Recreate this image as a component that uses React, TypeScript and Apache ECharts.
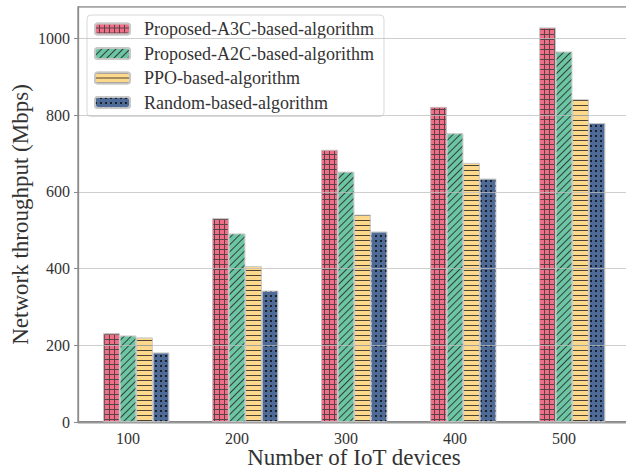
import React, { useEffect, useRef } from "react";
import * as echarts from "echarts";

const devices = [100, 200, 300, 400, 500];
const seriesNames = [
  "Proposed-A3C-based-algorithm",
  "Proposed-A2C-based-algorithm",
  "PPO-based-algorithm",
  "Random-based-algorithm",
];
const a3c = [231, 531, 709, 821, 1028];
const a2c = [225, 491, 652, 752, 965];
const ppo = [220, 406, 540, 675, 841];
const rnd = [181, 342, 496, 634, 779];
const yTicks = [0, 200, 400, 600, 800, 1000];

const FONT = "'Liberation Serif', 'DejaVu Serif', serif";
const TEXT = "#333333";

export default function App() {
  const ref = useRef<HTMLDivElement>(null);
  useEffect(() => {
    document.body.style.margin = "0";
    if (!ref.current) return;
    const chart = echarts.init(ref.current, null, { renderer: "svg" });
    const gridLeft = 78;
    const gridRight = 630;
    const pxPerUnit = 1.09;
    const xMin = 100 - (128 - gridLeft) / pxPerUnit;
    const xMax = 500 + (gridRight - 564) / pxPerUnit;
    const barW = 16.5;
    const shift = barW / 2 / pxPerUnit;

    const decals: any[] = [
      {
        symbol: "rect",
        symbolSize: 1,
        color: "#f06f86",
        dashArrayX: [4, 1],
        dashArrayY: [4, 1],
      },
      {
        symbol: "rect",
        symbolSize: 1,
        color: "rgba(40,40,40,0.85)",
        dashArrayX: [1, 0],
        dashArrayY: [1, 4],
        rotation: -Math.PI / 4,
      },
      {
        symbol: "rect",
        symbolSize: 1,
        color: "rgba(30,30,30,0.8)",
        dashArrayX: [1, 0],
        dashArrayY: [1, 3.4],
      },
      {
        symbol: "rect",
        symbolSize: 1,
        color: "rgba(20,20,20,0.85)",
        dashArrayX: [1.3, 3],
        dashArrayY: [1.3, 3],
      },
    ];
    const baseColors = ["#5a4248", "#6cc6a3", "#fed88b", "#4d6b96"];
    const values = [a3c, a2c, ppo, rnd];

    const series = values.map((vals, i) => ({
      name: seriesNames[i],
      type: "bar",
      xAxisIndex: 1,
      barWidth: barW,
      barGap: "0%",
      data: devices.map((d, j) => [d, vals[j]]),
      itemStyle: {
        color: baseColors[i],
        decal: decals[i],
        borderColor: "rgba(200,200,200,0.9)",
        borderWidth: 0.8,
      },
      z: 2,
    }));

    chart.setOption({
      animation: false,
      backgroundColor: "#ffffff",
      textStyle: { fontFamily: FONT, color: TEXT },
      grid: {
        left: gridLeft,
        right: 626 - gridRight,
        top: 7,
        bottom: 470 - 422,
        outerBoundsMode: "none",
        containLabel: false,
        show: true,
        borderColor: "#8c8c8c",
        borderWidth: 1.3,
        backgroundColor: "#ffffff",
      },
      legend: {
        orient: "vertical",
        left: 87,
        top: 15,
        itemWidth: 35,
        itemHeight: 11,
        itemGap: 6.5,
        padding: [5, 10, 5, 7],
        borderColor: "#d8d8d8",
        borderWidth: 1,
        borderRadius: 4,
        backgroundColor: "rgba(255,255,255,0.85)",
        textStyle: {
          fontFamily: FONT,
          fontSize: 18,
          lineHeight: 18,
          color: TEXT,
          padding: [0, 0, 0, 9],
        },
        data: seriesNames,
      },
      xAxis: [
        {
          type: "value",
          min: xMin,
          max: xMax,
          position: "bottom",
          name: "Number of IoT devices",
          nameLocation: "middle",
          nameGap: 24,
          nameMoveOverlap: false,
          nameTextStyle: { fontFamily: FONT, fontSize: 23, color: TEXT },
          axisLine: { show: true, lineStyle: { color: "#2b2b2b", width: 1.3 } },
          axisTick: { show: false },
          splitLine: { show: false },
          axisLabel: {
            fontFamily: FONT,
            fontSize: 16,
            color: TEXT,
            margin: 8,
            formatter: (v: number) =>
              devices.includes(Math.round(v)) && Math.abs(v - Math.round(v)) < 1e-6
                ? String(Math.round(v))
                : "",
          },
        },
        {
          type: "value",
          min: xMin - shift,
          max: xMax - shift,
          show: false,
          splitLine: { show: false },
        },
      ],
      yAxis: {
        type: "value",
        min: 0,
        max: 1081.5,
        interval: 200,
        z: 5,
        name: "Network throughput (Mbps)",
        nameLocation: "middle",
        nameGap: 46,
        nameMoveOverlap: false,
        nameTextStyle: { fontFamily: FONT, fontSize: 23, color: TEXT },
        axisLine: { show: true, lineStyle: { color: "#8c8c8c", width: 1.3 } },
        axisTick: { show: true, length: 4, lineStyle: { color: "#8c8c8c" } },
        splitLine: {
          show: true,
          lineStyle: { color: "rgba(190,190,190,0.75)", width: 1.2 },
        },
        axisLabel: {
          fontFamily: FONT,
          fontSize: 16,
          color: TEXT,
          margin: 8,
          showMaxLabel: false,
          formatter: (v: number) => (yTicks.includes(v) ? String(v) : ""),
        },
      },
      series,
    });
    return () => chart.dispose();
  }, []);
  return <div ref={ref} style={{ width: 626, height: 470 }} />;
}
